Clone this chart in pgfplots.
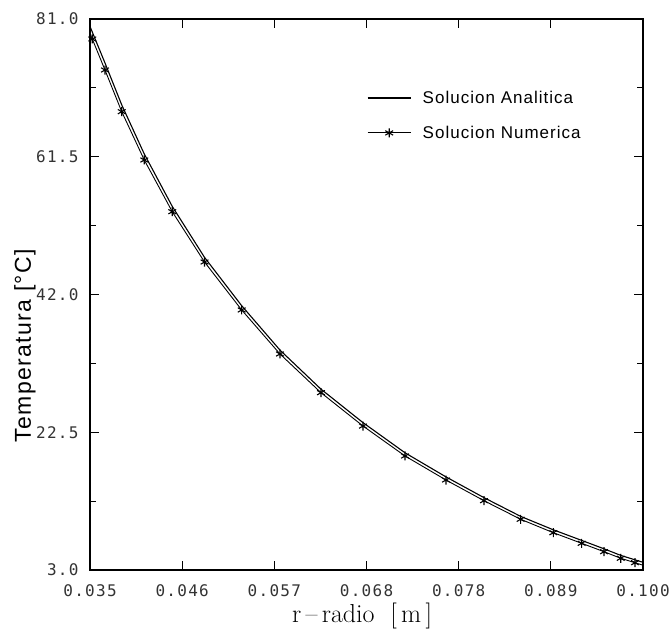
\documentclass[border=0pt]{standalone}
\usepackage{pgfplots}
\pgfplotsset{compat=1.18}
\usepackage{pgfplotstable}
\usepackage{fontspec}
\setsansfont{Liberation Sans}
\setmonofont{DejaVu Sans Mono}
\newfontfamily\lsans[LetterSpace=6]{Liberation Sans}
\newfontfamily\lmono[LetterSpace=8]{DejaVu Sans Mono}

\pgfplotstableread{
x y
0.03500 79.95
0.03527 79.15
0.03676 74.78
0.03873 68.84
0.04138 61.89
0.04467 54.47
0.04846 47.26
0.05283 40.41
0.05733 34.13
0.06215 28.60
0.06709 23.86
0.07203 19.59
0.07684 16.18
0.08131 13.24
0.08562 10.59
0.08946 8.69
0.09279 7.19
0.09542 6.00
0.09738 5.07
0.09906 4.44
0.10000 4.09
}\analitica

\pgfplotstableread{
x y
0.03527 78.17
0.03676 73.78
0.03873 67.88
0.04138 61.04
0.04467 53.72
0.04846 46.60
0.05283 39.81
0.05733 33.58
0.06215 28.10
0.06709 23.38
0.07203 19.14
0.07684 15.74
0.08131 12.81
0.08562 10.18
0.08946 8.28
0.09279 6.78
0.09542 5.59
0.09738 4.66
0.09906 4.03
}\numerica

\begin{document}
\begin{tikzpicture}
\useasboundingbox (-90pt,-59pt) rectangle (579pt,570pt);
\begin{axis}[
  scale only axis, width=553pt, height=551pt,
  at={(0pt,0pt)}, anchor=south west,
  xmin=0.035, xmax=0.1, ymin=3, ymax=81,
  xtick={0.035,0.0458333,0.0566667,0.0675,0.0783333,0.0891667,0.1},
  xticklabels={0.035,0.046,0.057,0.068,0.078,0.089,0.100},
  ytick={3,22.5,42,61.5,81},
  yticklabels={3.0,22.5,42.0,61.5,81.0},
  minor tick num=1,
  tick align=inside,
  major tick length=9pt, minor tick length=6pt,
  tick style={black, line width=1pt},
  axis line style={line width=1.3pt, black},
  ticklabel style={font=\lmono\fontsize{16}{16}\selectfont, text=black!80},
  xticklabel style={yshift=-11pt},
  yticklabel style={xshift=-8pt},
  xlabel={r\,--\,radio\ \ [\,m\,]},
  xlabel style={at={(axis description cs:0.492,-0.084)}, anchor=center, font=\addfontfeature{LetterSpace=10}\fontsize{26}{26}\selectfont},
  ylabel={Temperatura [°C]},
  ylabel style={at={(axis description cs:-0.1175,0.407)}, anchor=center, rotate=0, font=\lsans\fontsize{23}{23}\selectfont},
  legend style={at={(axis description cs:0.50,0.873)}, anchor=north west, draw=none, fill=none,
    font=\lsans\fontsize{17}{17}\selectfont, row sep=17pt, column sep=9pt, inner sep=0pt},
  legend cell align=left,
  legend image code/.code={\draw[mark repeat=2,mark phase=2,#1] plot coordinates {(0pt,0pt) (21.5pt,0pt) (43pt,0pt)};},
]
\addplot[black, line width=1.1pt, legend image code/.code={\draw[black, line width=2pt] (0pt,0pt) -- (43pt,0pt);}] table {\analitica};
\addlegendentry{Solucion Analitica}
\addplot[black, line width=0.9pt, mark=asterisk, mark size=4.5pt, mark options={line width=1.1pt}] table {\numerica};
\addlegendentry{Solucion Numerica}
\addplot[black, line width=0.9pt, forget plot] coordinates {(0.035,78.95) (0.03527,78.17)};
\addplot[black, line width=0.9pt, forget plot] coordinates {(0.09906,4.03) (0.1,3.68)};
\end{axis}
\end{tikzpicture}
\end{document}
